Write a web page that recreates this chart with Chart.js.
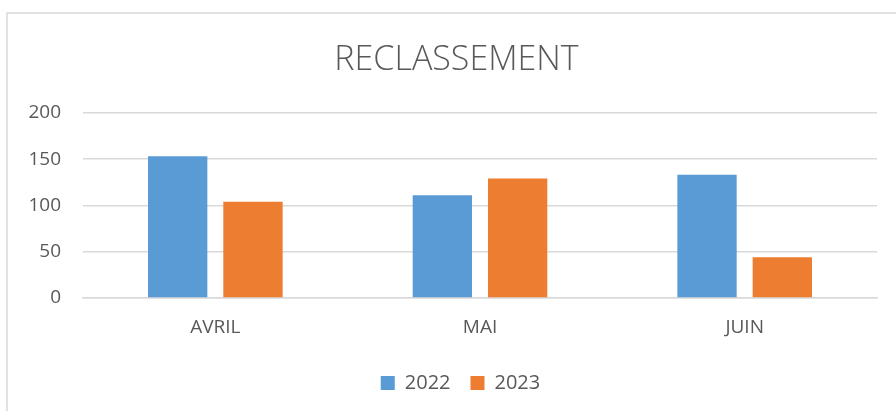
<!DOCTYPE html>
<html>
<head>
<meta charset="utf-8">
<script src="https://cdn.jsdelivr.net/npm/chart.js@4"></script>
<style>
  html, body { margin: 0; padding: 0; background: #fff; }
  #wrap { width: 896px; height: 411px; position: relative; }
</style>
</head>
<body>
<div id="wrap"><canvas id="chart"></canvas></div>
<script>
const months = ["AVRIL", "MAI", "JUIN"]
const values2022 = [153, 111, 133]
const values2023 = [104, 129, 44]
const yTicks = [0, 50, 100, 150, 200]

const blue = "#5B9BD5"
const orange = "#ED7D31"
const textGrey = "#595959"
const lineGrey = "#d9d9d9"
const font = "'Open Sans', sans-serif"

// frame of the chart box (only top and left edges are visible in the picture)
// and shift title/legend so they centre on the whole frame, like the original
const frame = {
  id: "frame",
  afterLayout(chart) {
    chart.titleBlock.left += 18
    chart.titleBlock.right += 18
    chart.legend.left += 22
    chart.legend.right += 22
  },
  beforeDraw(chart) {
    const ctx = chart.ctx
    ctx.save()
    ctx.strokeStyle = lineGrey
    ctx.lineWidth = 1.5
    ctx.beginPath()
    ctx.moveTo(7, chart.height)
    ctx.lineTo(7, 13)
    ctx.lineTo(chart.width, 13)
    ctx.stroke()
    ctx.restore()
  }
}

new Chart(document.getElementById("chart"), {
  type: "bar",
  data: {
    labels: months,
    datasets: [
      { label: "2022", data: values2022, backgroundColor: blue },
      { label: "2023", data: values2023, backgroundColor: orange }
    ]
  },
  options: {
    responsive: true,
    maintainAspectRatio: false,
    animation: false,
    categoryPercentage: 0.569,
    barPercentage: 0.788,
    layout: { padding: { left: 0, right: 19, top: 0, bottom: 8 } },
    plugins: {
      title: {
        display: true,
        text: "RECLASSEMENT",
        color: textGrey,
        font: { family: font, size: 34, weight: "300" },
        padding: { top: 40, bottom: 32 }
      },
      legend: {
        position: "bottom",
        labels: {
          color: textGrey,
          font: { family: font, size: 20 },
          boxWidth: 14,
          boxHeight: 14,
          padding: 20
        }
      },
      tooltip: { enabled: false }
    },
    scales: {
      x: {
        grid: { display: false, drawTicks: false },
        border: { color: lineGrey, width: 1.5 },
        ticks: { color: textGrey, font: { family: font, size: 19 }, padding: 18 },
        afterFit: s => { s.height = 55 }
      },
      y: {
        min: 0,
        max: 200,
        afterBuildTicks: s => { s.ticks = yTicks.map(v => ({ value: v })) },
        grid: { color: lineGrey, lineWidth: 1.5, drawTicks: false },
        border: { display: false },
        ticks: { color: textGrey, font: { family: font, size: 19 }, padding: 22 },
        afterFit: s => { s.width = 83 }
      }
    }
  },
  plugins: [frame]
})
</script>
</body>
</html>
